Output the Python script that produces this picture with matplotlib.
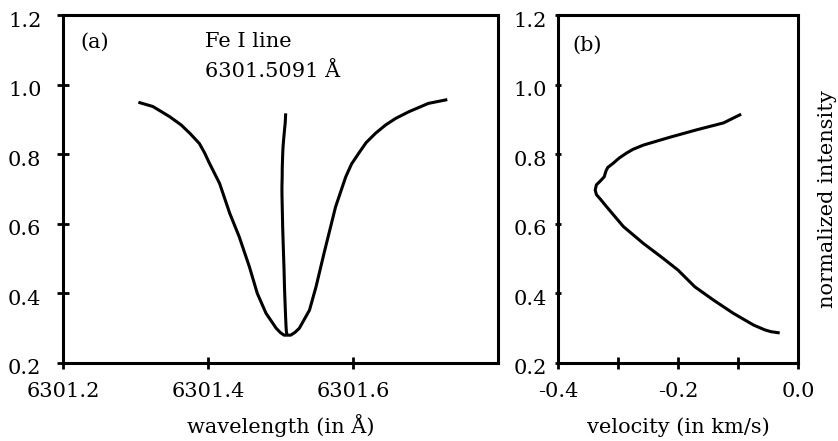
import numpy as np
import matplotlib
matplotlib.use("Agg")
import matplotlib.pyplot as plt
import matplotlib.transforms as mtransforms

plt.rcParams['font.family'] = ['DejaVu Serif']
plt.rcParams['axes.unicode_minus'] = False

# (a) Fe I 6301.5091 line profile
wl_profile = [6301.306, 6301.324, 6301.347, 6301.363, 6301.375, 6301.388, 6301.395,
              6301.402, 6301.416, 6301.430, 6301.443, 6301.457, 6301.468, 6301.480,
              6301.494, 6301.500, 6301.505, 6301.514, 6301.520, 6301.526, 6301.540,
              6301.549, 6301.560, 6301.576, 6301.590, 6301.598, 6301.608, 6301.618,
              6301.631, 6301.645, 6301.659, 6301.677, 6301.704, 6301.728]
int_profile = [0.948, 0.937, 0.908, 0.884, 0.860, 0.831, 0.805,
               0.774, 0.716, 0.630, 0.563, 0.477, 0.400, 0.343,
               0.300, 0.287, 0.280, 0.280, 0.288, 0.300, 0.352,
               0.419, 0.515, 0.649, 0.735, 0.772, 0.803, 0.833,
               0.860, 0.884, 0.903, 0.922, 0.946, 0.956]

# (b) bisector velocity vs. intensity
vel_bis = [-0.097, -0.110, -0.124, -0.169, -0.213, -0.258, -0.275, -0.286, -0.298,
           -0.308, -0.317, -0.320, -0.323, -0.330, -0.336, -0.338, -0.336, -0.329,
           -0.319, -0.291, -0.258, -0.225, -0.200, -0.172, -0.141, -0.108, -0.074,
           -0.055, -0.045, -0.033]
int_bis = [0.913, 0.902, 0.890, 0.870, 0.849, 0.826, 0.814, 0.803, 0.789,
           0.774, 0.762, 0.752, 0.735, 0.722, 0.712, 0.697, 0.684, 0.670,
           0.649, 0.592, 0.544, 0.501, 0.467, 0.419, 0.381, 0.343, 0.309,
           0.295, 0.290, 0.287]

y_ticks = [0.2, 0.4, 0.6, 0.8, 1.0, 1.2]
y_labels = ['0.2', '0.4', '0.6', '0.8', '1.0', '1.2']

lambda0 = 6301.5091
c_kms = 299792.458
wl_bis = lambda0 * (1 + np.array(vel_bis) / c_kms)

fig = plt.figure(figsize=(8.38, 4.41), dpi=100)
ax1 = fig.add_axes([63/838, 1-363/441, 435/838, 348/441])
ax2 = fig.add_axes([558/838, 1-363/441, 240/838, 348/441])

fs = 15
lw = 2.2

ax1.plot(wl_profile, int_profile, color='k', lw=lw, solid_joinstyle='round')
ax1.plot(wl_bis, int_bis, color='k', lw=lw, solid_joinstyle='round')
ax1.set_xlim(6301.2, 6301.8)
ax1.set_ylim(0.2, 1.2)
ax1.set_xticks([6301.2, 6301.4, 6301.6])
ax1.set_xticklabels(['6301.2', '6301.4', '6301.6'])
ax1.set_yticks(y_ticks)
ax1.set_yticklabels(y_labels)
ax1.tick_params(axis='y', direction='inout', length=9, width=2, labelsize=fs, pad=11)
ax1.tick_params(axis='x', direction='inout', length=9, width=2, labelsize=fs, pad=9)
ax1.text(0.039, 0.922, '(a)', transform=ax1.transAxes, fontsize=fs, va='center')
ax1.text(0.326, 0.925, 'Fe I line', transform=ax1.transAxes, fontsize=fs, va='center')
ax1.text(0.326, 0.837, '6301.5091 Å', transform=ax1.transAxes, fontsize=fs, va='center')
ax1.set_xlabel('wavelength (in Å)', fontsize=fs, va='baseline')
ax1.xaxis.set_label_coords(0.5, -0.201)

ax2.plot(vel_bis, int_bis, color='k', lw=lw, solid_joinstyle='round')
ax2.set_xlim(-0.4, 0.0)
ax2.set_ylim(0.2, 1.2)
ax2.set_xticks([-0.4, -0.3, -0.2, -0.1, 0.0])
ax2.set_xticklabels(['-0.4', '', '-0.2', '', '0.0'])
ax2.set_yticks(y_ticks)
ax2.set_yticklabels(y_labels)
ax2.tick_params(axis='x', direction='inout', length=9, width=2, labelsize=fs, pad=9)
ax2.tick_params(axis='y', direction='inout', length=4, width=2, labelsize=fs, pad=6)
ax2.text(0.058, 0.914, '(b)', transform=ax2.transAxes, fontsize=fs, va='center')
ax2.set_xlabel('velocity (in km/s)', fontsize=fs, va='baseline')
ax2.xaxis.set_label_coords(0.5, -0.201)
ax2.yaxis.set_label_position('right')
ax2.set_ylabel('normalized intensity', fontsize=fs)
ax2.yaxis.set_label_coords(1.082, 0.471)

# y tick labels sit slightly below their ticks in the original
shift = mtransforms.ScaledTranslation(0, -4/100, fig.dpi_scale_trans)
for ax in (ax1, ax2):
    for lab in ax.get_yticklabels():
        lab.set_transform(lab.get_transform() + shift)
    for sp in ax.spines.values():
        sp.set_linewidth(2.2)

fig.savefig('out.png', dpi=100)
